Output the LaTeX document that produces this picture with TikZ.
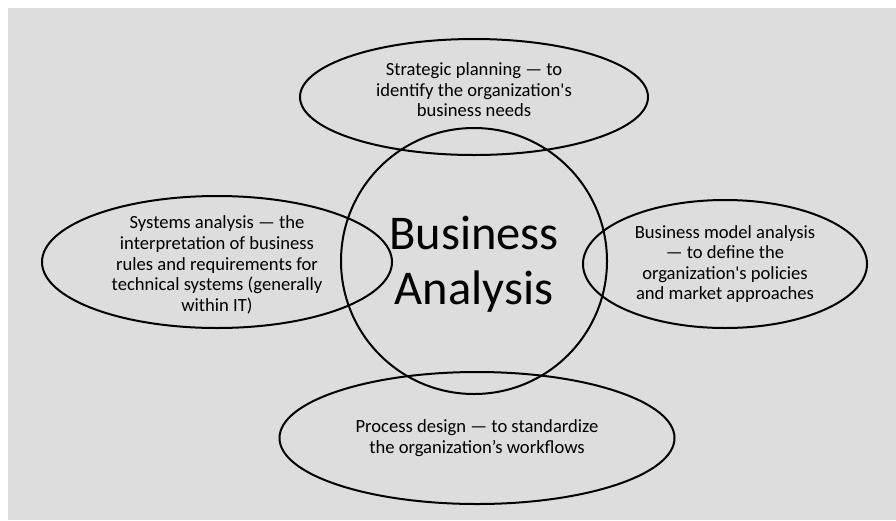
\documentclass[tikz,border=0pt]{standalone}
\usepackage{fontspec}
\setmainfont{Carlito}
\usetikzlibrary{shapes.geometric}
\definecolor{backdrop}{HTML}{DDDDDD}
\tikzset{
  bubble/.style={draw,ellipse,line width=2pt,inner sep=0pt},
  note/.style={align=center,font=\fontsize{18.6}{20.6}\selectfont}
}
\begin{document}
\begin{tikzpicture}[x=1pt,y=-1pt]
\fill[white] (0,0) rectangle (896,520);
\fill[backdrop] (8,8) rectangle (896,520);
% centre circle
\node[draw,circle,line width=2pt,minimum size=266pt,inner sep=0pt] (core) at (474,261) {};
\node[align=center,font=\fontsize{48.5}{55}\selectfont] at ([yshift=-3pt]core.center) {Business\\Analysis};
% the four areas round it
\node[bubble,minimum width=348pt,minimum height=116pt] (plan) at (474,97) {};
\node[note] at ([yshift=7pt]plan.center) {Strategic planning --- to\\identify the organization\textquotesingle s\\business needs};
\node[bubble,minimum width=350pt,minimum height=132pt] (sys) at (217,262) {};
\node[note] at ([yshift=-3pt]sys.center) {Systems analysis --- the\\interpretation of business\\rules and requirements for\\technical systems (generally\\within IT)};
\node[bubble,minimum width=284pt,minimum height=128pt] (model) at (725,264) {};
\node[note] at (model.center) {Business model analysis\\--- to define the\\organization\textquotesingle s policies\\and market approaches};
\node[bubble,minimum width=395pt,minimum height=132pt] (proc) at (477,438) {};
\node[note] at (proc.center) {Process design --- to standardize\\the organization’s workflows};
\end{tikzpicture}
\end{document}
